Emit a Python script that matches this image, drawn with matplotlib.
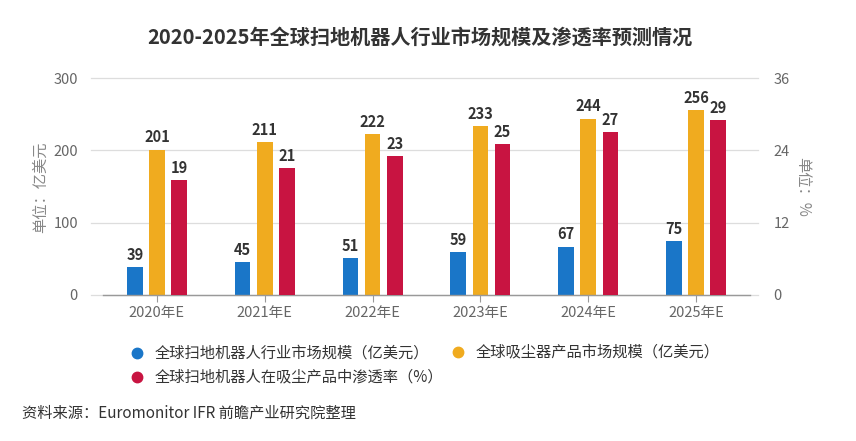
import matplotlib
matplotlib.use("Agg")
import matplotlib.pyplot as plt
from matplotlib.lines import Line2D
import numpy as np

plt.rcParams['font.family'] = ['Noto Sans CJK SC', 'DejaVu Sans']

categories = ["2020年E", "2021年E", "2022年E", "2023年E", "2024年E", "2025年E"]
robot_market = [39, 45, 51, 59, 67, 75]          # 亿美元
vacuum_market = [201, 211, 222, 233, 244, 256]   # 亿美元
penetration = [19, 21, 23, 25, 27, 29]           # %

title = "2020-2025年全球扫地机器人行业市场规模及渗透率预测情况"
series_names = ["全球扫地机器人行业市场规模（亿美元）",
                "全球吸尘器产品市场规模（亿美元）",
                "全球扫地机器人在吸尘产品中渗透率（%）"]
left_label = "单位：亿美元"
right_label = "单位：%"
source = "资料来源：Euromonitor IFR 前瞻产业研究院整理"

c_blue = "#1a76c8"
c_orange = "#f0ab1f"
c_red = "#c81441"
txt = "#333333"
tick_c = "#666666"

fig = plt.figure(figsize=(8.56, 4.41), dpi=100)
ax = fig.add_axes([103/856, 1-295/441, (750-103)/856, (295-78)/441])
ax2 = ax.twinx()

x = np.arange(len(categories))
w = 0.145
step = 0.205

b1 = ax.bar(x - step, robot_market, w, color=c_blue, zorder=3)
b2 = ax.bar(x, vacuum_market, w, color=c_orange, zorder=3)
b3 = ax2.bar(x + step, penetration, w, color=c_red, zorder=3)

for bars, vals, a in [(b1, robot_market, ax), (b2, vacuum_market, ax), (b3, penetration, ax2)]:
    for r, v in zip(bars, vals):
        a.annotate(f"{v}", (r.get_x() + r.get_width()/2, r.get_height()),
                   xytext=(0, 3), textcoords="offset points",
                   ha="center", va="bottom", fontsize=10.5, fontweight="bold",
                   color=txt, zorder=5)

ax.set_xlim(-0.5, len(categories) - 0.5)
ax.set_ylim(0, 300)
ax2.set_ylim(0, 36)
ax.set_yticks([0, 100, 200, 300])
ax2.set_yticks([0, 12, 24, 36])
ax.set_xticks(x)
ax.set_xticklabels(categories)

for a in (ax, ax2):
    for s in a.spines.values():
        s.set_visible(False)
ax.spines['bottom'].set_visible(True)
ax.spines['bottom'].set_color("#999999")
ax.spines['bottom'].set_linewidth(1.0)
ax.spines['bottom'].set_zorder(4)

# gridlines extending slightly beyond the plot
for yv in [0, 100, 200, 300]:
    ax.axhline(yv, xmin=-0.018, xmax=1.012, color="#dddddd", lw=0.9, clip_on=False, zorder=1)

ax.tick_params(axis='y', length=0, pad=18, labelsize=10.5, labelcolor=tick_c)
ax2.tick_params(axis='y', length=0, pad=17, labelsize=10.5, labelcolor=tick_c)
ax.tick_params(axis='x', length=5, width=0.8, color="#999999", pad=3, labelsize=10.5, labelcolor=tick_c)

fig.text(40/856, 1-187/441, left_label, rotation=90, ha="center", va="center",
         fontsize=11, color="#888888")
fig.text(803/856, 1-187/441, right_label, rotation=-90, ha="center", va="center",
         fontsize=11, color="#888888")

fig.text(420/856, 1-37/441, title, ha="center", va="center", fontsize=14.5,
         fontweight="bold", color=txt)

# legend (manual layout)
leg = [(137, 353, c_blue, series_names[0]),
       (458, 352, c_orange, series_names[1]),
       (137, 377, c_red, series_names[2])]
for px, py, col, name in leg:
    fig.add_artist(Line2D([px/856], [1-py/441], marker='o', markersize=7.5,
                          color=col, linestyle='none', transform=fig.transFigure))
    fig.text((px+18)/856, 1-py/441, name, ha="left", va="center",
             fontsize=11, color=txt)

fig.text(22/856, 1-413/441, source, ha="left", va="center", fontsize=11, color=txt)

fig.savefig("out.png", dpi=100)
